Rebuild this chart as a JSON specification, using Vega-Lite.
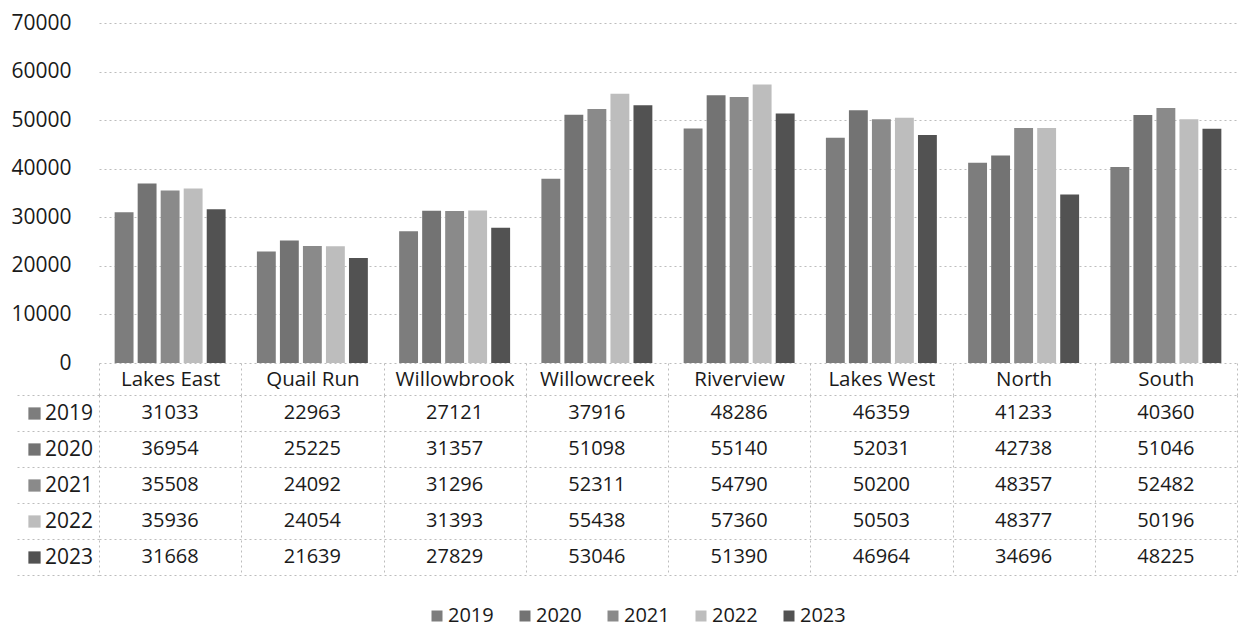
{
  "$schema": "https://vega.github.io/schema/vega-lite/v6.json",
  "background": "white",
  "padding": {"left": 10, "top": 12, "right": 2, "bottom": 2},
  "config": {"font": "Open Sans", "view": {"stroke": null}},
  "datasets": {
    "rows": [
      {"region": "Lakes East", "year": "2019", "value": 31033},
      {"region": "Lakes East", "year": "2020", "value": 36954},
      {"region": "Lakes East", "year": "2021", "value": 35508},
      {"region": "Lakes East", "year": "2022", "value": 35936},
      {"region": "Lakes East", "year": "2023", "value": 31668},
      {"region": "Quail Run", "year": "2019", "value": 22963},
      {"region": "Quail Run", "year": "2020", "value": 25225},
      {"region": "Quail Run", "year": "2021", "value": 24092},
      {"region": "Quail Run", "year": "2022", "value": 24054},
      {"region": "Quail Run", "year": "2023", "value": 21639},
      {"region": "Willowbrook", "year": "2019", "value": 27121},
      {"region": "Willowbrook", "year": "2020", "value": 31357},
      {"region": "Willowbrook", "year": "2021", "value": 31296},
      {"region": "Willowbrook", "year": "2022", "value": 31393},
      {"region": "Willowbrook", "year": "2023", "value": 27829},
      {"region": "Willowcreek", "year": "2019", "value": 37916},
      {"region": "Willowcreek", "year": "2020", "value": 51098},
      {"region": "Willowcreek", "year": "2021", "value": 52311},
      {"region": "Willowcreek", "year": "2022", "value": 55438},
      {"region": "Willowcreek", "year": "2023", "value": 53046},
      {"region": "Riverview", "year": "2019", "value": 48286},
      {"region": "Riverview", "year": "2020", "value": 55140},
      {"region": "Riverview", "year": "2021", "value": 54790},
      {"region": "Riverview", "year": "2022", "value": 57360},
      {"region": "Riverview", "year": "2023", "value": 51390},
      {"region": "Lakes West", "year": "2019", "value": 46359},
      {"region": "Lakes West", "year": "2020", "value": 52031},
      {"region": "Lakes West", "year": "2021", "value": 50200},
      {"region": "Lakes West", "year": "2022", "value": 50503},
      {"region": "Lakes West", "year": "2023", "value": 46964},
      {"region": "North", "year": "2019", "value": 41233},
      {"region": "North", "year": "2020", "value": 42738},
      {"region": "North", "year": "2021", "value": 48357},
      {"region": "North", "year": "2022", "value": 48377},
      {"region": "North", "year": "2023", "value": 34696},
      {"region": "South", "year": "2019", "value": 40360},
      {"region": "South", "year": "2020", "value": 51046},
      {"region": "South", "year": "2021", "value": 52482},
      {"region": "South", "year": "2022", "value": 50196},
      {"region": "South", "year": "2023", "value": 48225}
    ]
  },
  "spacing": -12,
  "vconcat": [
    {
      "width": 1138,
      "height": 340,
      "data": {"name": "rows"},
      "mark": {"type": "bar"},
      "encoding": {
        "x": {
          "field": "region", "type": "nominal",
          "sort": ["Lakes East", "Quail Run", "Willowbrook", "Willowcreek", "Riverview", "Lakes West", "North", "South"],
          "scale": {"paddingInner": 0.22, "paddingOuter": 0.11},
          "axis": null
        },
        "xOffset": {"field": "year", "type": "nominal", "scale": {"paddingInner": 0.18}},
        "y": {
          "field": "value", "type": "quantitative",
          "scale": {"domain": [0, 70000]},
          "axis": {
            "values": [0, 10000, 20000, 30000, 40000, 50000, 60000, 70000],
            "format": "d", "title": null, "domain": false, "ticks": false,
            "labelPadding": 28, "labelFontSize": 21, "labelColor": "#1a1a1a",
            "gridColor": "#bdbdbd", "gridDash": [2, 3], "gridWidth": 1
          }
        },
        "color": {
          "field": "year", "type": "nominal",
          "scale": {"domain": ["2019", "2020", "2021", "2022", "2023"], "range": ["#7d7d7d", "#737373", "#8a8a8a", "#bdbdbd", "#525252"]},
          "legend": null
        }
      }
    },
    {
      "width": 1138,
      "height": 180,
      "data": {"name": "rows"},
      "encoding": {
        "x": {
          "field": "region", "type": "nominal",
          "sort": ["Lakes East", "Quail Run", "Willowbrook", "Willowcreek", "Riverview", "Lakes West", "North", "South"],
          "scale": {"padding": 0},
          "axis": {
            "orient": "top", "title": null, "domain": false, "labelAngle": 0,
            "labelFontSize": 20.5, "labelColor": "#1a1a1a",
            "tickBand": "extent", "tickSize": 33, "tickColor": "#bdbdbd", "tickDash": [2, 3],
            "labelPadding": -27, "grid": true, "gridColor": "#bdbdbd", "gridDash": [2, 3]
          }
        },
        "y": {
          "field": "year", "type": "ordinal",
          "scale": {"padding": 0},
          "axis": {
            "title": null, "labels": false, "domain": false,
            "tickBand": "extent", "tickSize": 84, "tickColor": "#bdbdbd", "tickDash": [2, 3],
            "grid": true, "gridColor": "#bdbdbd", "gridDash": [2, 3]
          }
        }
      },
      "layer": [
        {
          "mark": {"type": "text", "fontSize": 20, "color": "#1a1a1a"},
          "encoding": {"text": {"field": "value", "type": "quantitative", "format": "d"}}
        },
        {
          "mark": {"type": "square", "opacity": 0},
          "encoding": {
            "fill": {
              "field": "year", "type": "nominal",
              "scale": {"domain": ["2019", "2020", "2021", "2022", "2023"], "range": ["#7d7d7d", "#737373", "#8a8a8a", "#bdbdbd", "#525252"]},
              "legend": {
                "orient": "none", "legendX": -75, "legendY": 8, "direction": "vertical",
                "title": null, "symbolType": "square", "symbolSize": 150, "symbolStrokeWidth": 0,
                "symbolOpacity": 1, "labelFontSize": 21, "labelColor": "#1a1a1a", "rowPadding": 14, "labelOffset": 0
              }
            }
          }
        },
        {
          "mark": {"type": "square", "opacity": 0},
          "encoding": {
            "color": {
              "field": "year", "type": "nominal",
              "scale": {"range": ["#7d7d7d", "#737373", "#8a8a8a", "#bdbdbd", "#525252"]},
              "legend": {
                "orient": "none", "legendX": 328, "legendY": 211, "direction": "horizontal",
                "title": null, "symbolType": "square", "symbolSize": 121, "symbolStrokeWidth": 0,
                "symbolOpacity": 1, "labelFontSize": 20, "labelColor": "#1a1a1a", "columnPadding": 21, "labelOffset": 1
              }
            }
          }
        }
      ]
    }
  ],
  "resolve": {"scale": {"x": "independent", "color": "independent", "fill": "independent"}}
}
